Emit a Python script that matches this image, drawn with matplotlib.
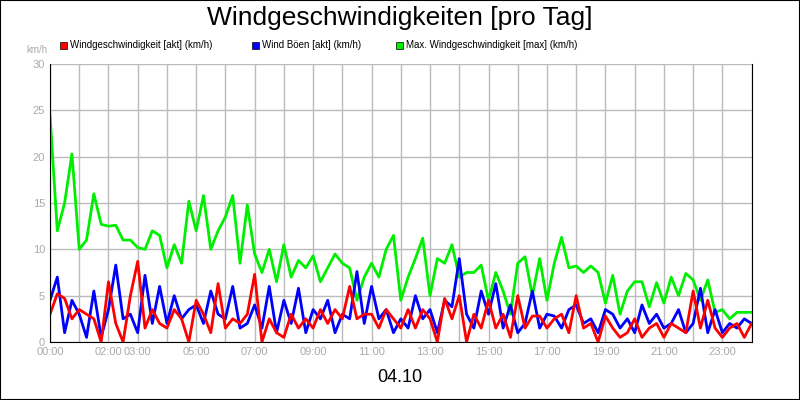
import numpy as np
import matplotlib
matplotlib.use("Agg")
import matplotlib.pyplot as plt
from matplotlib.patches import Rectangle

plt.rcParams["font.family"] = "Liberation Sans"

# 15-minute values, 00:00 .. 24:00
wind_akt = [
    3, 5.2, 4.7, 2.5,  3.5, 3, 2.5, 0,  6.5, 2, 0, 5,  8.7, 1.5, 3.5, 2,
    1.5, 3.5, 2.5, 0,  4.5, 3, 1, 6.3,  1.5, 2.5, 2, 3,  7.3, 0, 2.5, 1,
    0.5, 3, 1.5, 2.5,  1.5, 3.5, 2, 3.5,  2.5, 6, 2.5, 3,  3, 1.5, 3.5, 2.5,
    1.5, 3.5, 1.5, 3.5,  2.5, 0, 4.7, 2.5,  5, 0, 3, 1.5,  4.5, 1.5, 3, 0.5,
    5, 1.5, 2.8, 2.8,  1.5, 2.5, 3, 1,  5, 1.5, 2, 0,  2.8, 1.5, 0.5, 1,
    2.5, 0.5, 1.5, 2,  0.5, 2, 1.5, 1,  5.5, 1.5, 4.5, 1.5,  0.5, 1.5, 2, 0.5,
    2]
boeen_akt = [
    4.5, 7, 1, 4.5,  3, 0.5, 5.5, 0.5,  3.5, 8.3, 2.5, 3,  1, 7.2, 2, 6,
    2, 5, 2.5, 3.5,  4, 2, 5.5, 3,  2.5, 6, 1.5, 2,  4, 1.5, 6, 1,
    4.5, 2, 5.8, 1,  3.5, 2.5, 4.5, 1,  3, 2.5, 7.6, 2,  6, 2.5, 3.5, 1,
    2.5, 1.5, 5, 2.5,  3.5, 1, 4.5, 3.8,  9, 3, 1.5, 5.5,  3, 6.3, 1.5, 4,
    1, 2, 5.5, 1.5,  3, 2.8, 1.5, 3.5,  4, 2, 2.5, 1,  3.5, 3, 1.5, 2.5,
    1, 4, 2, 3,  1.5, 2, 3.5, 1,  2, 5.8, 1, 3.5,  1, 2, 1.5, 2.5,
    2]
wind_max = [
    24.5, 12, 15, 20.3,  10, 11, 16, 12.7,  12.5, 12.6, 11, 11,  10.2, 10, 12, 11.5,
    8, 10.5, 8.5, 15.2,  12, 15.8, 10, 12,  13.5, 15.8, 8.5, 14.8,  9.5, 7.5, 10, 6.5,
    10.5, 7, 8.8, 8,  9.3, 6.5, 8, 9.5,  8.5, 8, 4.5, 7,  8.5, 7, 10, 11.5,
    4.5, 7, 9, 11.2,  5, 9, 8.5, 10.5,  7, 7.5, 7.5, 8.3,  4.5, 7.5, 5.5, 3,
    8.5, 9.2, 5, 9,  4.5, 8.5, 11.3, 8,  8.2, 7.5, 8.2, 7.5,  4.2, 7.2, 3, 5.5,
    6.5, 6.5, 3.8, 6.4,  4.2, 7, 5, 7.4,  6.7, 4.5, 6.7, 3.2,  3.5, 2.5, 3.2, 3.2,
    3.2]
tick_hours = [0, 2, 3, 5, 7, 9, 11, 13, 15, 17, 19, 21, 23]
series_names = ["Windgeschwindigkeit [akt] (km/h)", "Wind Böen [akt] (km/h)",
                "Max. Windgeschwindigkeit [max] (km/h)"]
colors = ["#ff0000", "#0000ff", "#00ee00"]

t = np.arange(len(wind_akt)) * 0.25

fig = plt.figure(figsize=(8, 4), dpi=100)
fig.patches.append(Rectangle((0, 0), 1, 1, transform=fig.transFigure, fill=False,
                             edgecolor="black", linewidth=1.5))
ax = fig.add_axes([0.0625, 0.145, 0.877, 0.695])

for vals, c in [(wind_max, colors[2]), (boeen_akt, colors[1]), (wind_akt, colors[0])]:
    ax.plot(t, vals, color=c, lw=2)

ax.set_xlim(0, 24)
ax.set_ylim(0, 30)
ax.set_xticks(range(25), minor=True)
ax.set_xticks(tick_hours)
ax.set_xticklabels([f"{h:02d}:00" for h in tick_hours])
ax.set_yticks(range(0, 31, 5))
ax.grid(True, which="both", color="#bbbbbb", lw=1)
ax.tick_params(colors="#aaaaaa", labelsize=8, length=0, which="both")
ax.spines["top"].set_visible(False)
for s in ["left", "bottom", "right"]:
    ax.spines[s].set_color("black")

fig.text(0.5, 0.955, "Windgeschwindigkeiten [pro Tag]", ha="center", va="center", fontsize=19)
fig.text(0.033, 0.875, "km/h", color="#aaaaaa", fontsize=7, va="center")
fig.text(0.5, 0.055, "04.10", ha="center", va="center", fontsize=13)

leg_x = [0.075, 0.315, 0.495]
for x, name, c in zip(leg_x, series_names, colors):
    fig.patches.append(Rectangle((x, 0.878), 0.009, 0.018, transform=fig.transFigure,
                                 facecolor=c, edgecolor="black", lw=0.5))
    fig.text(x + 0.013, 0.887, name, fontsize=7, va="center")

fig.savefig("out.png", dpi=100)
